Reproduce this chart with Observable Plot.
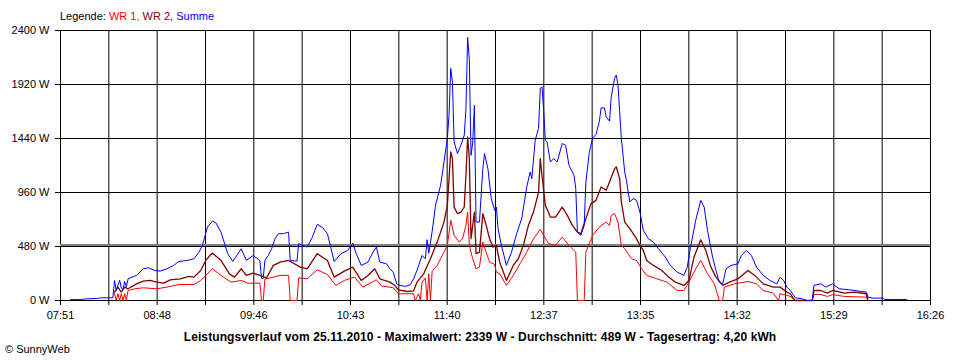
<!DOCTYPE html>
<html><head><meta charset="utf-8">
<script src="https://cdn.jsdelivr.net/npm/d3@7"></script>
<script src="https://cdn.jsdelivr.net/npm/@observablehq/plot@0.6"></script>
<style>
body{margin:0;background:#fff;font-family:"Liberation Sans",Arial,sans-serif;width:960px;height:360px;overflow:hidden;color:#000}
#legend{height:23px;box-sizing:border-box;padding:10px 0 0 60px;font-size:11px;line-height:13px;white-space:nowrap}
#chart svg{display:block}
#caption{height:18px;line-height:18px;text-align:center;font-weight:bold;font-size:12px;letter-spacing:0.1px;white-space:nowrap}
#credit{font-size:11px;line-height:12px;padding-left:5px;margin-top:-3px}
</style></head><body>
<div id="legend"></div><div id="chart"></div><div id="caption"></div><div id="credit"></div>
<script>
// x tick labels (time of day)
const tickLabels = ["07:51","08:48","09:46","10:43","11:40","12:37","13:35","14:32","15:29","16:26"];
// y ticks (W)
const yTicks = [0, 480, 960, 1440, 1920, 2400];
const seriesNames = ["WR 1", "WR 2", "Summe"];
const seriesColors = ["#ff0000", "#800000", "#0000ff"];
const datum = "25.11.2010";
const maximalwert = 2339;
const durchschnitt = 489;
const tagesertrag = "4,20";

// [minutes since midnight, W]
const summe = [[477,8],[483,8],[486,15],[493,18],[495,24],[502,24],[503,178],[504,90],[506,180],[507,110],[508,100],[509,170],[510,120],[511,193],[516,223],[520,282],[523,291],[527,267],[530,261],[534,282],[538,312],[541,347],[546,356],[550,371],[553,430],[555,490],[558,653],[561,706],[563,690],[566,608],[570,416],[573,347],[578,460],[581,356],[585,400],[589,356],[590,196],[591,196],[592,356],[594,400],[596,460],[598,549],[600,594],[603,594],[606,608],[607,356],[611,350],[612,505],[617,475],[620,560],[623,677],[626,650],[629,594],[633,347],[637,416],[641,445],[644,510],[646,420],[649,312],[653,341],[656,430],[658,475],[660,341],[664,326],[666,282],[668,252],[670,148],[672,134],[675,125],[678,140],[680,193],[682,267],[685,400],[687,371],[688,540],[689,420],[691,614],[693,846],[696,1024],[698,1231],[700,1440],[701,1647],[702,2063],[703,1944],[704,1410],[706,1306],[708,1380],[710,1469],[711,1700],[712,2339],[713,2143],[714,1291],[715,1400],[716,1736],[717,697],[719,697],[721,1172],[722,1306],[724,1172],[726,906],[728,801],[729,831],[730,640],[732,490],[735,312],[738,430],[741,594],[744,727],[747,1009],[749,1142],[750,1083],[752,1425],[754,1529],[755,1885],[756,1900],[757,1700],[758,1425],[759,1410],[761,1231],[763,1262],[765,1231],[768,1395],[770,1380],[772,1202],[775,1113],[776,994],[777,608],[779,579],[781,668],[782,1054],[784,1313],[786,1445],[788,1475],[790,1594],[791,1712],[793,1712],[794,1632],[796,1594],[797,1810],[799,1973],[800,2004],[801,1915],[802,1677],[803,1440],[805,1142],[806,1069],[808,875],[810,906],[812,890],[814,786],[816,623],[819,549],[822,519],[825,460],[829,386],[832,312],[836,252],[840,223],[842,297],[844,475],[847,712],[850,890],[852,831],[854,623],[857,386],[859,267],[861,163],[863,148],[865,282],[868,312],[872,326],[874,400],[877,445],[880,400],[883,297],[887,223],[891,178],[895,148],[897,208],[899,178],[901,119],[903,89],[906,24],[910,15],[913,0],[916,0],[917,134],[921,148],[924,119],[928,148],[932,104],[938,95],[944,83],[948,74],[949,30],[952,21],[958,21],[959,9],[972,9]];

const wr2 = [[503,74],[505,119],[507,74],[509,119],[511,104],[516,148],[520,172],[524,178],[528,163],[532,154],[536,184],[542,193],[547,214],[550,208],[554,267],[557,356],[560,410],[561,421],[566,356],[571,237],[574,208],[578,282],[581,223],[585,243],[589,223],[593,202],[597,312],[601,341],[606,356],[613,297],[617,282],[623,416],[629,356],[633,208],[639,261],[644,297],[649,178],[653,223],[657,282],[660,193],[666,163],[669,134],[671,95],[676,80],[680,85],[682,163],[686,237],[690,371],[694,519],[698,697],[700,846],[702,1321],[703,1262],[704,831],[706,772],[708,786],[710,831],[711,1113],[712,1454],[713,1262],[714,549],[716,786],[717,416],[719,430],[721,772],[723,668],[725,549],[727,475],[729,490],[731,340],[735,178],[739,312],[742,371],[745,490],[748,668],[751,786],[754,964],[755,1262],[756,1113],[758,846],[761,742],[764,742],[768,831],[771,757],[774,668],[777,608],[779,594],[782,727],[785,861],[788,890],[791,1009],[794,980],[796,1054],[799,1172],[800,1187],[802,1083],[803,875],[805,697],[808,638],[812,549],[814,490],[816,445],[818,356],[822,312],[827,267],[831,208],[835,163],[840,134],[843,178],[846,386],[850,540],[853,445],[856,297],[859,208],[863,134],[867,163],[872,193],[878,267],[882,223],[887,148],[893,119],[897,119],[901,74],[903,60],[905,15],[906,0],[916,0],[917,89],[921,89],[925,65],[928,89],[935,65],[941,74],[948,60],[949,0]];

const wr1 = [[503,60],[504,0],[505,60],[506,0],[507,60],[508,0],[509,60],[510,0],[511,89],[515,104],[520,113],[528,104],[534,119],[541,142],[550,142],[554,178],[558,237],[560,273],[561,282],[566,223],[572,163],[578,178],[582,154],[589,154],[590,0],[591,0],[592,190],[597,208],[601,223],[606,223],[607,0],[611,0],[612,202],[617,193],[623,273],[629,231],[634,134],[639,178],[645,208],[650,119],[658,184],[661,130],[668,113],[671,60],[680,60],[681,0],[683,60],[684,0],[685,163],[687,200],[688,0],[689,237],[690,0],[691,260],[694,312],[698,430],[700,490],[702,712],[704,579],[707,519],[709,549],[711,668],[712,786],[713,490],[715,371],[717,282],[719,297],[721,519],[723,430],[725,341],[728,320],[729,252],[731,237],[735,134],[739,223],[743,326],[747,430],[751,549],[755,632],[757,579],[760,505],[764,490],[768,564],[772,490],[776,430],[777,0],[781,0],[782,430],[786,579],[790,653],[794,697],[796,668],[797,757],[799,772],[801,697],[803,490],[805,460],[809,371],[812,356],[815,282],[818,223],[824,193],[830,163],[836,89],[840,89],[843,163],[847,282],[850,356],[854,237],[858,148],[861,0],[863,0],[864,119],[870,148],[878,169],[883,148],[887,89],[893,65],[896,0],[897,60],[901,45],[903,36],[905,15],[906,0],[916,0],[917,53],[921,53],[925,36],[928,53],[935,36],[948,30],[949,0]];

const toMin = s => { const [h, m] = s.split(":").map(Number); return h * 60 + m; };
const x0 = toMin(tickLabels[0]), x1 = toMin(tickLabels[tickLabels.length - 1]);
const nInt = (tickLabels.length - 1) * 2;
const xGrid = d3.range(nInt + 1).map(i => x0 + i * (x1 - x0) / nInt);
const labelOf = new Map(xGrid.filter((d, i) => i % 2 === 0).map((d, i) => [d, tickLabels[i]]));

const toRows = a => a.map(([t, v]) => ({t, v}));

const chart = Plot.plot({
  width: 960, height: 305,
  marginTop: 7, marginBottom: 28, marginLeft: 60, marginRight: 30,
  style: {fontFamily: "'Liberation Sans', Arial, sans-serif", fontSize: "11px", color: "#000", background: "#fff"},
  x: {domain: [x0, x1], axis: null, label: null},
  y: {domain: [0, 2400], axis: null, label: null},
  marks: [
    Plot.gridX(xGrid, {stroke: "#000", strokeOpacity: 1}),
    Plot.gridY(yTicks, {stroke: "#000", strokeOpacity: 1}),
    Plot.ruleY([durchschnitt], {stroke: "#808080", strokeWidth: 2, dy: -0.5}),
    Plot.axisX(xGrid, {tickSize: 5, tickPadding: 6, label: null, tickFormat: d => labelOf.get(d) ?? "", stroke: "#000", fill: "#000"}),
    Plot.axisY(yTicks, {tickSize: 5, tickPadding: 6, label: null, tickFormat: d => d + " W", stroke: "#000", fill: "#000"}),
    Plot.line(toRows(wr1), {x: "t", y: "v", stroke: seriesColors[0], strokeWidth: 1}),
    Plot.line(toRows(wr2), {x: "t", y: "v", stroke: seriesColors[1], strokeWidth: 1.3}),
    Plot.line(toRows(summe), {x: "t", y: "v", stroke: seriesColors[2], strokeWidth: 1})
  ]
});
document.getElementById("chart").append(chart);

const leg = document.getElementById("legend");
leg.append("Legende: ");
seriesNames.forEach((n, i) => {
  const s = document.createElement("span");
  s.style.color = seriesColors[i];
  s.textContent = n + (i < seriesNames.length - 1 ? ", " : "");
  leg.append(s);
});
document.getElementById("caption").textContent =
  `Leistungsverlauf vom ${datum} - Maximalwert: ${maximalwert} W - Durchschnitt: ${durchschnitt} W - Tagesertrag: ${tagesertrag} kWh`;
document.getElementById("credit").textContent = "© SunnyWeb";
</script></body></html>
